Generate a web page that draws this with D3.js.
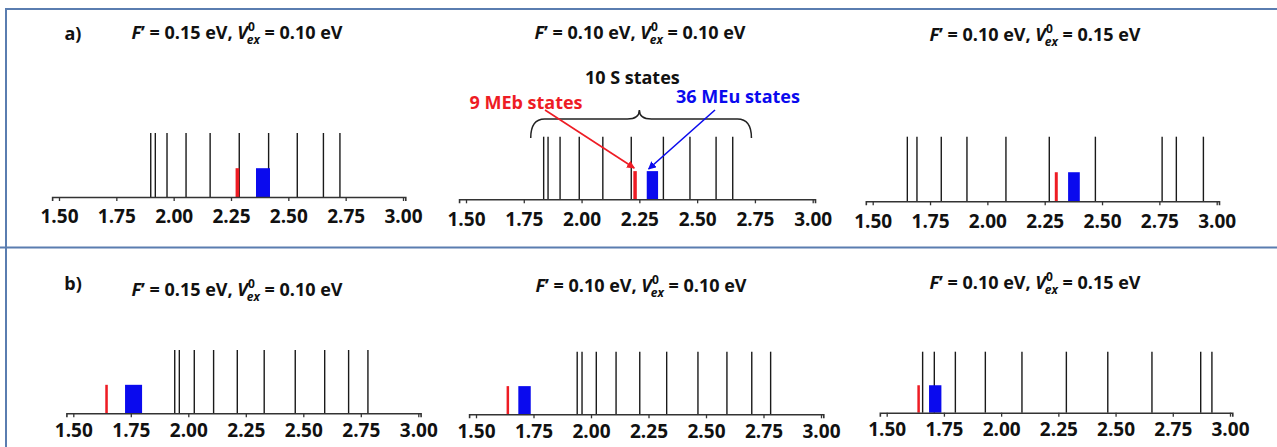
<!DOCTYPE html>
<meta charset="utf-8">
<head>
    <title>S, MEb and MEu state energies</title>
    <script src="https://d3js.org/d3.v7.min.js"></script>
    <style>
        body { margin: 0; background: #fff; }
        svg text { font-family: "Open Sans", "Noto Sans", sans-serif; font-weight: bold; fill: #111; }
    </style>
</head>
<body>
<svg id="fig" width="1277" height="447"></svg>
<script>
    // energies (eV) of the 10 S states, one list per panel (a1 a2 a3 b1 b2 b3)
    var sStates = [
        [1.900, 1.920, 1.971, 2.054, 2.159, 2.286, 2.414, 2.539, 2.653, 2.725],
        [1.836, 1.855, 1.907, 1.990, 2.092, 2.215, 2.354, 2.469, 2.582, 2.654],
        [1.651, 1.693, 1.799, 1.911, 2.081, 2.270, 2.471, 2.762, 2.824, 2.942],
        [1.941, 1.961, 2.026, 2.110, 2.213, 2.330, 2.465, 2.593, 2.697, 2.781],
        [1.940, 1.961, 2.023, 2.109, 2.212, 2.329, 2.465, 2.591, 2.699, 2.781],
        [1.657, 1.708, 1.800, 1.931, 2.091, 2.285, 2.466, 2.659, 2.872, 2.921]
    ];
    // energy range covered by the 9 MEb states and the 36 MEu states
    var mebBand = [[2.270, 2.286], [2.224, 2.239], [2.294, 2.307], [1.639, 1.650], [1.633, 1.642], [1.634, 1.642]];
    var meuBand = [[2.359, 2.420], [2.282, 2.331], [2.352, 2.403], [1.725, 1.799], [1.684, 1.738], [1.685, 1.739]];
    var sHeight = 1, meHeight = 0.45;

    var fValues = ["0.15", "0.10", "0.10", "0.15", "0.10", "0.10"];
    var vValues = ["0.10", "0.10", "0.15", "0.10", "0.10", "0.15"];
    var rowLabels = ["a)", "b)"];
    var tickValues = [1.50, 1.75, 2.00, 2.25, 2.50, 2.75, 3.00];

    // pixel layout of each panel: where 1.50 and 3.00 sit, the axis line and the top of the S lines
    var layout = [
        {x0: 59, x1: 403, axisY: 197, top: 133, titleX: 237, titleY: 39, pad: 9},
        {x0: 466, x1: 812.7, axisY: 199.3, top: 136.7, titleX: 640, titleY: 39, pad: 9},
        {x0: 872.7, x1: 1216.7, axisY: 201.3, top: 136.7, titleX: 1035, titleY: 41, pad: 9},
        {x0: 73.3, x1: 418.3, axisY: 413.3, top: 350, titleX: 237, titleY: 296, pad: 6},
        {x0: 476, x1: 821, axisY: 414.3, top: 351.7, titleX: 641, titleY: 292, pad: 6},
        {x0: 886.7, x1: 1230, axisY: 412.7, top: 351.7, titleX: 1035, titleY: 289, pad: 6}
    ];

    var red = "#ee1c24", blue = "#0a0aee";
    var svg = d3.select("#fig");

    // frame lines
    var frame = svg.append("g").attr("stroke", "#5a7db0").attr("stroke-width", 2);
    frame.append("line").attr("x1", 5).attr("x2", 1277).attr("y1", 9).attr("y2", 9);
    frame.append("line").attr("x1", 0).attr("x2", 1277).attr("y1", 247.5).attr("y2", 247.5);
    frame.append("line").attr("x1", 6).attr("x2", 6).attr("y1", 8).attr("y2", 447);

    svg.append("text").attr("x", 73).attr("y", 40).attr("text-anchor", "middle")
        .style("font-size", "18px").text(rowLabels[0]);
    svg.append("text").attr("x", 73).attr("y", 290).attr("text-anchor", "middle")
        .style("font-size", "18px").text(rowLabels[1]);

    var scales = [];

    layout.forEach(function (p, i) {
        var k = (p.x1 - p.x0) / 1.5;
        var x = d3.scaleLinear().domain([1.47, 3.01]).range([p.x0 - 0.03 * k, p.x1 + 0.01 * k]);
        var y = d3.scaleLinear().domain([0, 1]).range([p.axisY, p.top]);
        scales.push(x);
        var g = svg.append("g");

        // title
        var t = g.append("text").attr("x", p.titleX).attr("y", p.titleY)
            .attr("text-anchor", "middle").style("font-size", "18px");
        t.append("tspan").style("font-style", "italic").text("F");
        t.append("tspan").text("\u2019 = " + fValues[i] + " eV, ");
        t.append("tspan").style("font-style", "italic").text("V");
        t.append("tspan").attr("dy", -8).style("font-size", "12px").text("0");
        t.append("tspan").attr("dx", -8).attr("dy", 13).style("font-size", "12px")
            .style("font-style", "italic").text("ex");
        t.append("tspan").attr("dy", -5).text(" = " + vValues[i] + " eV");

        // S state lines
        g.selectAll(".s").data(sStates[i]).enter().append("line")
            .attr("x1", function (d) { return x(d); })
            .attr("x2", function (d) { return x(d); })
            .attr("y1", y(0)).attr("y2", y(sHeight))
            .attr("stroke", "#1a1a1a").attr("stroke-width", 1.4);

        // MEb and MEu bands
        [[mebBand[i], red], [meuBand[i], blue]].forEach(function (b) {
            g.append("rect")
                .attr("x", x(b[0][0]))
                .attr("width", Math.max(2.5, x(b[0][1]) - x(b[0][0])))
                .attr("y", y(meHeight))
                .attr("height", y(0) - y(meHeight))
                .attr("fill", b[1]);
        });

        // axis
        var ax = g.append("g").attr("transform", "translate(0," + p.axisY + ")")
            .call(d3.axisBottom(x).tickValues(tickValues).tickFormat(d3.format(".2f"))
                .tickSizeOuter(0).tickSize(4).tickPadding(p.pad));
        ax.select(".domain").attr("stroke", "#333").attr("stroke-width", 1.6);
        ax.selectAll(".tick line").attr("stroke", "#333").attr("stroke-width", 1.3);
        ax.selectAll(".tick text").style("font-size", "19px").attr("fill", "#111")
            .style("font-family", "'Open Sans', sans-serif").style("font-weight", "bold");
    });

    // annotations on panel a2
    var xa = scales[1];
    var braceL = xa(1.78), braceR = xa(2.735), braceM = xa(2.25);
    var bLow = 138, bMid = 119, bTip = 110;
    svg.append("path")
        .attr("d", "M" + braceL + "," + bLow + " Q" + braceL + "," + bMid + " " + (braceL + 14) + "," + bMid +
            " L" + (braceM - 12) + "," + bMid + " Q" + braceM + "," + bMid + " " + braceM + "," + bTip +
            " Q" + braceM + "," + bMid + " " + (braceM + 12) + "," + bMid +
            " L" + (braceR - 14) + "," + bMid + " Q" + braceR + "," + bMid + " " + braceR + "," + bLow)
        .attr("fill", "none").attr("stroke", "#222").attr("stroke-width", 1.5);

    svg.append("text").attr("x", braceM - 7).attr("y", 84).attr("text-anchor", "middle")
        .style("font-size", "18px").text("10 S states");
    svg.append("text").attr("x", 526).attr("y", 109).attr("text-anchor", "middle")
        .style("font-size", "18px").style("fill", red).text("9 MEb states");
    svg.append("text").attr("x", 738).attr("y", 103).attr("text-anchor", "middle")
        .style("font-size", "18px").style("fill", blue).text("36 MEu states");

    var defs = svg.append("defs");
    [["ar", red], ["ab", blue]].forEach(function (m) {
        defs.append("marker").attr("id", m[0]).attr("viewBox", "0 0 10 10")
            .attr("refX", 9).attr("refY", 5).attr("markerWidth", 5).attr("markerHeight", 5)
            .attr("orient", "auto")
            .append("path").attr("d", "M0,0 L10,5 L0,10 Z").attr("fill", m[1]);
    });
    svg.append("line").attr("x1", 545).attr("y1", 110).attr("x2", xa(2.228)).attr("y2", 168)
        .attr("stroke", red).attr("stroke-width", 1.6).attr("marker-end", "url(#ar)");
    svg.append("line").attr("x1", 715).attr("y1", 110).attr("x2", xa(2.29)).attr("y2", 169)
        .attr("stroke", blue).attr("stroke-width", 1.6).attr("marker-end", "url(#ab)");
</script>
</body>
